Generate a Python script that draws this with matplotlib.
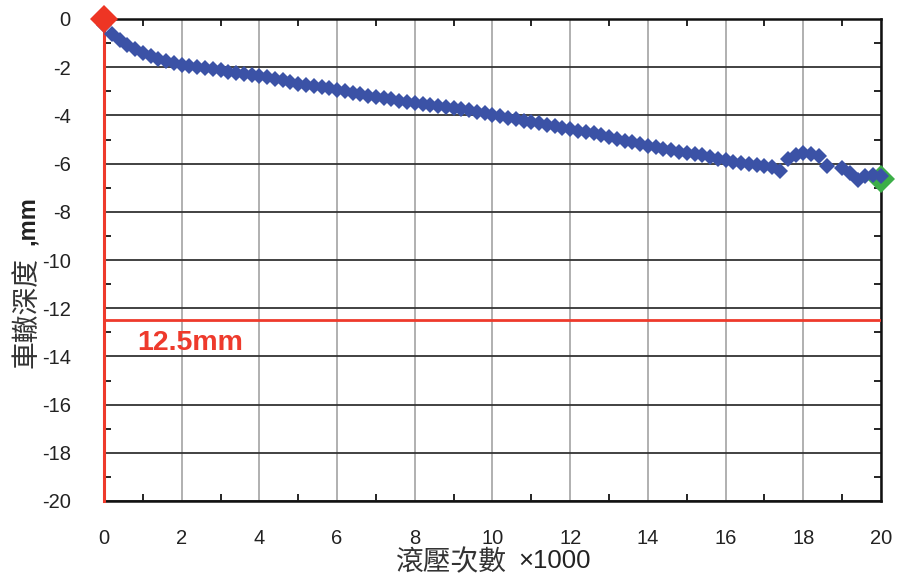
import matplotlib.pyplot as plt
import numpy as np
from matplotlib.ticker import MultipleLocator

plt.rcParams['font.family'] = ['Liberation Sans', 'DejaVu Sans']
plt.rcParams['axes.unicode_minus'] = False

# Rut depth readings every 200 passes (x in thousands of passes)
cycles = np.round(np.arange(0, 101) * 0.2, 1)
rut_depth = [
    -0.25, -0.62, -0.88, -1.08, -1.25, -1.42, -1.54, -1.66, -1.75, -1.83,
    -1.90, -1.95, -2.00, -2.04, -2.08, -2.13, -2.20, -2.25, -2.28, -2.33,
    -2.37, -2.42, -2.48, -2.55, -2.62, -2.68, -2.72, -2.76, -2.82, -2.88,
    -2.95, -3.00, -3.06, -3.13, -3.20, -3.24, -3.28, -3.33, -3.40, -3.45,
    -3.50, -3.53, -3.57, -3.60, -3.64, -3.68, -3.73, -3.79, -3.85, -3.92,
    -3.98, -4.04, -4.10, -4.16, -4.22, -4.28, -4.33, -4.39, -4.45, -4.52,
    -4.58, -4.63, -4.69, -4.75, -4.82, -4.90, -4.97, -5.05, -5.12, -5.20,
    -5.28, -5.33, -5.38, -5.44, -5.50, -5.56, -5.61, -5.66, -5.72, -5.80,
    -5.87, -5.93, -5.97, -6.02, -6.06, -6.10, -6.16, -6.32, -5.82, -5.65,
    -5.56, -5.62, -5.67, -6.12, np.nan, -6.20, -6.38, -6.66, -6.52, -6.47,
    -6.52,
]
start_point = (0, 0)
end_point = (20, -6.65)
limit_depth = -12.5
limit_label = '12.5mm'

fig = plt.figure(figsize=(8.98, 5.78), dpi=100)
ax = fig.add_axes([104 / 898, 1 - 501 / 578, 777 / 898, 482 / 578])

ax.set_xlim(0, 20)
ax.set_ylim(-20, 0)
ax.xaxis.set_major_locator(MultipleLocator(2))
ax.xaxis.set_minor_locator(MultipleLocator(1))
ax.yaxis.set_major_locator(MultipleLocator(2))
ax.yaxis.set_minor_locator(MultipleLocator(1))

# grid: dark horizontal lines, grey vertical lines
ax.grid(True, axis='y', which='major', color='#333333', lw=1.3, zorder=1)
ax.grid(True, axis='x', which='major', color='#aaaaaa', lw=1.3, zorder=1)

ax.tick_params(which='both', direction='in', top=True, right=True,
               labelsize=14.5, labelcolor='#222222')
ax.tick_params(which='major', length=0)
ax.tick_params(which='minor', length=5, width=1.2)
ax.tick_params(axis='y', pad=24)
ax.tick_params(axis='x', pad=20)
for s in ax.spines.values():
    s.set_linewidth(1.8)
    s.set_color('#111111')

# allowable rut depth and the x=0 reference line
ax.axhline(limit_depth, color='#ee3a2c', lw=2, zorder=3)
ax.axvline(0, color='#ee3a2c', lw=2.2, zorder=4, clip_on=False)
ax.text(0.85, -13.45, limit_label, color='#ee3a2c', fontsize=20.5,
        fontweight='bold', va='center', ha='left')

ax.plot(*end_point, ls='none', marker='D', ms=14, mfc='#3cae48',
        mec='#3cae48', mew=0, zorder=4, clip_on=False)
ax.plot(cycles, rut_depth, ls='none', marker='D', ms=8, color='#3b52a6',
        mew=0, zorder=5, clip_on=False)
ax.plot(*start_point, ls='none', marker='D', ms=14, color='#ee3524',
        mew=0, zorder=6, clip_on=False)

# axis titles
cjk = ['Noto Sans CJK TC', 'DejaVu Sans']
fig.text(27 / 898, 1 - 312 / 578, '車轍深度', family=cjk, fontsize=20,
         rotation=90, ha='center', va='center', color='#333333')
fig.text(27 / 898, 1 - 221 / 578, ',mm', fontsize=17, fontweight='bold',
         rotation=90, ha='center', va='center', color='#222222')
fig.text(451 / 898, 1 - 562 / 578, '滾壓次數', family=cjk, fontsize=20,
         ha='center', va='center', color='#333333')
fig.text(518 / 898, 1 - 561 / 578, '×1000', fontsize=18.5,
         ha='left', va='center', color='#222222')

fig.savefig('out.png', dpi=100)
